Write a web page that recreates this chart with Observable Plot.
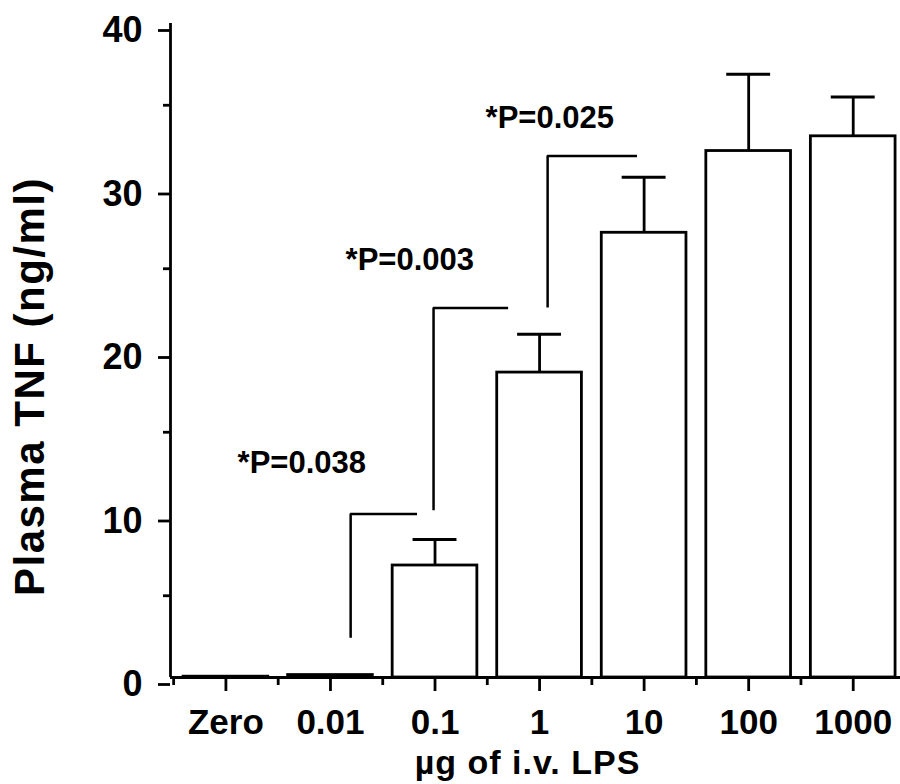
<!DOCTYPE html>
<html><head><meta charset="utf-8">
<script src="https://cdn.jsdelivr.net/npm/d3@7"></script>
<script src="https://cdn.jsdelivr.net/npm/@observablehq/plot@0.6"></script>
<style>
html,body{margin:0;padding:0;background:#fff;}
#chart svg{display:block;}
#chart g[aria-label="y-axis label"] text{font-size:42px;letter-spacing:1.5px;}
#chart g[aria-label="x-axis label"] text{font-size:34px;letter-spacing:1px;}
</style></head><body><div id="chart"></div>
<script>
// Categories (µg of i.v. LPS) and plasma TNF (ng/ml)
const categories = ["Zero", "0.01", "0.1", "1", "10", "100", "1000"];
const means = [0.05, 0.15, 6.85, 18.65, 27.2, 32.2, 33.1];
const upperErr = [null, null, 8.44, 21.0, 30.6, 36.9, 35.5];

// Significance brackets
const bracketLabels = ["*P=0.038", "*P=0.003", "*P=0.025"];
const bracketX = [1.193, 1.986, 3.077];
const bracketXEnd = [1.833, 2.704, 3.937];
const bracketYLow = [2.4, 10.2, 22.6];
const bracketYHigh = [10.0, 22.6, 31.9];
const labelX = [0.112, 1.145, 2.484];
const labelY = [13.1, 25.5, 34.2];

// Axis ticks
const yTicks = [0, 10, 20, 30, 40];
const yMinorTicks = [5, 15, 25, 35];
const xMinorTicks = [-0.5, 0.5, 1.5, 2.5, 3.5, 4.5, 5.5];
const xDomain = [-0.53, 6.5];
const yDomain = [0, 40];

const idx = categories.map((_, i) => i);
const errIdx = idx.filter(i => upperErr[i] != null);
const bIdx = bracketLabels.map((_, i) => i);
const halfBar = 0.405;
const capHalf = 0.21;
const sw = 2.8;

const chart = Plot.plot({
  width: 900,
  height: 784,
  marginLeft: 170,
  marginRight: 16,
  marginTop: 95,
  marginBottom: 107,
  style: {fontFamily: "'Liberation Sans', Arial, sans-serif", fontWeight: "bold", background: "white", color: "black"},
  x: {type: "linear", domain: xDomain, range: [170, 905]},
  y: {domain: yDomain, range: [677, 23]},
  marks: [
    Plot.rect(idx, {x1: i => i - halfBar, x2: i => i + halfBar, y1: 0, y2: i => means[i], fill: "white", stroke: "black", strokeWidth: sw}),
    Plot.ruleX(errIdx, {x: i => i, y1: i => means[i], y2: i => upperErr[i], stroke: "black", strokeWidth: sw}),
    Plot.ruleY(errIdx, {y: i => upperErr[i], x1: i => i - capHalf, x2: i => i + capHalf, stroke: "black", strokeWidth: 3}),
    Plot.ruleX(bIdx, {x: i => bracketX[i], y1: i => bracketYLow[i], y2: i => bracketYHigh[i], stroke: "black", strokeWidth: 2.5}),
    Plot.ruleY(bIdx, {y: i => bracketYHigh[i], x1: i => bracketX[i], x2: i => bracketXEnd[i], stroke: "black", strokeWidth: 2.5}),
    Plot.text(bIdx, {x: i => labelX[i], y: i => labelY[i], text: i => bracketLabels[i], textAnchor: "start", fontSize: 31, fontWeight: "bold", fill: "black"}),
    Plot.ruleX([xDomain[0]], {y1: yDomain[0], y2: yDomain[1], stroke: "black", strokeWidth: sw}),
    Plot.ruleY([0], {x1: xDomain[0], x2: xDomain[1], stroke: "black", strokeWidth: sw}),
    Plot.axisY(yTicks, {tickSize: 12, tickPadding: 16, fontSize: 36, dy: 7, strokeWidth: sw, label: null}),
    Plot.axisY(yMinorTicks, {tickSize: 7, fill: "none", strokeWidth: sw, label: null}),
    Plot.axisY([], {tickSize: 0, label: "Plasma TNF (ng/ml)", labelAnchor: "center", labelOffset: 156, labelArrow: "none", fontSize: 42}),
    Plot.axisX(idx, {tickSize: 14, tickPadding: 18, fontSize: 35, tickFormat: i => categories[i], strokeWidth: sw, label: null}),
    Plot.axisX(xMinorTicks, {tickSize: 8, fill: "none", strokeWidth: sw, label: null}),
    Plot.axisX([], {tickSize: 0, label: "µg of i.v. LPS", labelAnchor: "center", labelOffset: 96, labelArrow: "none", fontSize: 34})
  ]
});
document.getElementById("chart").appendChild(chart);
</script>
</body></html>
